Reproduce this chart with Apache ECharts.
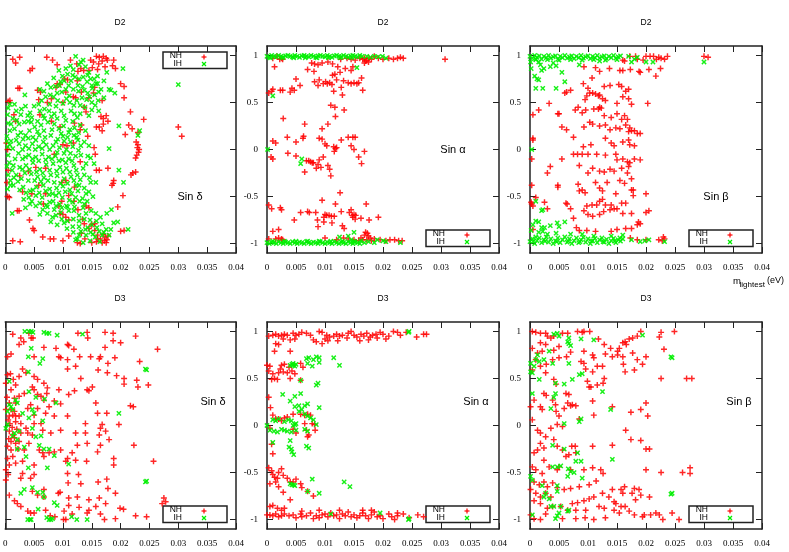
<!DOCTYPE html>
<html><head><meta charset="utf-8">
<script src="https://cdn.jsdelivr.net/npm/echarts@6/dist/echarts.min.js"></script>
<style>html,body{margin:0;padding:0;background:#fff}#c{width:789px;height:552px}</style>
</head><body><div id="c"></div>
<script>
// ---- axis / label data ----
const xMin = 0, xMax = 0.04, xTickStep = 0.005;
const yMin = -1.1, yMax = 1.1;
const yTickValues = [-1, -0.5, 0, 0.5, 1];
const panelTitles = ['D2', 'D2', 'D2', 'D3', 'D3', 'D3'];
const panelLabels = ['Sin δ', 'Sin α', 'Sin β', 'Sin δ', 'Sin α', 'Sin β'];
const seriesNames = ['NH', 'IH'];

// ---- D2, sin delta ----
const d2DeltaNH = [[.0013,.96],[.0018,.92],[.0025,.98],[.0043,.84],[.0047,.86],[.0072,.98],[.0082,.95],[.0090,.90],[.0113,.95],[.0124,.91],[.0131,.86],[.0136,.84],[.0126,.83],
[.0148,.95],[.0158,.99],[.0163,.98],[.0170,.99],[.0175,.97],[.0177,.95],[.0168,.94],[.0162,.91],[.0153,.93],[.0151,.87],[.0145,.84],[.0188,.95],[.0186,.89],[.0191,.86],[.0173,.88],[.0160,.85],
[.0200,.70],[.0206,.67],[.0206,.55],[.0217,.40],[.0240,.32],[.0214,.26],[.0220,.22],[.0208,.16],[.0230,.18],
[.0227,.08],[.0230,.05],[.0229,.02],[.0231,-.03],[.0228,-.06],[.0226,-.09],[.0232,.00],
[.0221,-.25],[.0226,-.24],[.0218,-.27],[.0188,-.33],[.0187,-.36],[.0185,-.38],[.0204,-.49],[.0195,-.61],[.0206,-.86],[.0200,-.87],
[.0170,-.90],[.0173,-.93],[.0172,-.97],[.0175,-.99],[.0168,-.99],[.0165,-.95],[.0160,-.91],[.0155,-.86],[.0176,-.96],[.0178,-.92],[.0150,-.80],[.0145,-.84],[.0132,-.89],[.0138,-.95],[.0158,-.98],[.0150,-.99],[.0130,-1.0],
[.0300,.24],[.0306,.14],
[.0154,.02],[.0156,-.05],[.0163,.24],[.0168,.20],[.0158,.24],[.0163,-.22],[.0158,-.22],[.0178,-.20],[.0140,-.60],[.0145,-.62],[.0134,-.74],[.0137,-.79],[.0155,-.79],[.0160,-.95],
[.0100,-.97],[.0084,-.95],[.0078,-.95],[.0110,-.92],[.0125,-.99],
[.0013,-.97],[.0026,-.98],[.0048,-.84],[.0050,-.86],[.0004,-.50],[.0007,-.51],[.0003,-.35],[.0005,-.22],[.0004,.0],[.0002,.07],[.0015,.37],[.0018,.30],[.0022,.65],[.0025,.65],[.0005,.51],[.0008,.52],[.0024,-.65],[.0021,-.65],
[.0056,.63],[.0061,.61],[.0058,.53],[.0090,.70],[.0095,.69],[.0088,.66],[.0103,.75],[.0108,.74],[.0105,.61],[.0118,.56],[.0122,.55],[.0132,.61],[.0125,.73],[.0073,.50],[.0080,.54],[.0100,.50],[.0060,.37],[.0080,.30],[.0095,.24],[.0118,.07],[.0132,.26],[.0143,.14],[.0130,.21],[.0107,.04],[.0100,.05],[.0085,-.05],[.0070,-.20],[.0053,-.19],[.0040,-.23],[.0025,-.28],[.0030,-.45],[.0046,-.47],[.0058,-.38],[.0098,-.35],[.0105,-.33],[.0098,-.55],[.0093,-.60],[.0110,-.49],[.0119,-.55],[.0110,-.75],[.0105,-.72],[.0100,-.69],[.0095,-.68],[.0126,-.64],[.0066,-.58],[.0070,-.47],[.0120,-.40],[.0130,-.13],[.0065,-.93],[.0042,-.75],[.0120,.28],[.0137,.45],[.0140,.40],[.0145,.55],[.0153,.60],[.0155,.66],[.0168,.52],[.0166,.35],[.0170,.33],[.0175,.36],[.0178,.30],[.0170,.27]];
const d2DeltaIH = [[.0122,.99],[.0131,.93],[.0139,.88],[.0113,.89],[.0145,.82],[.0148,.75],[.0108,.80],[.0117,.79],[.0102,.73],[.0096,.72],[.0126,.68],[.0134,.67],[.0157,.70],[.0166,.64],[.0151,.65],[.0143,.60],[.0180,.64],[.0171,.55],[.0161,.52],[.0150,.50],[.0138,.45],[.0124,.52],[.0111,.57],[.0105,.64],[.0094,.68],[.0087,.67],[.0079,.66],[.0084,.56],[.0091,.52],[.0100,.49],[.0114,.41],[.0097,.41],[.0085,.38],[.0076,.41],[.0068,.43],[.0060,.41],[.0050,.46],[.0043,.39],[.0034,.58],[.0039,.36],[.0027,.37],[.0019,.41],[.0013,.33],[.0004,.37],[.0005,.28],[.0016,.22],[.0024,.27],[.0033,.29],[.0045,.29],[.0051,.24],[.0062,.26],[.0074,.29],[.0085,.27],[.0093,.22],[.0101,.25],[.0112,.21],[.0120,.23],[.0130,.26],[.0119,.15],[.0126,.10],[.0108,.13],[.0100,.14],[.0091,.11],[.0079,.15],[.0069,.13],[.0059,.15],[.0048,.13],[.0040,.12],[.0031,.11],[.0019,.10],[.0010,.09],[.0004,.03],[.0013,.01],[.0024,.06],[.0035,.04],[.0047,.06],[.0058,.03],[.0071,.05],[.0083,.04],[.0094,.02],[.0106,.00],[.0117,.03],[.0131,.04],[.0122,-.07],[.0110,-.10],[.0099,-.11],[.0087,-.07],[.0075,-.08],[.0064,-.05],[.0053,-.08],[.0041,-.06],[.0030,-.10],[.0017,-.10],[.0007,-.14],[.0014,-.17],[.0025,-.19],[.0036,-.17],[.0048,-.14],[.0060,-.21],[.0071,-.16],[.0083,-.15],[.0095,-.19],[.0106,-.20],[.0119,-.17],[.0131,-.06],[.0143,-.07],[.0148,-.09],[.0154,-.15],[.0125,-.27],[.0114,-.29],[.0102,-.31],[.0090,-.28],[.0079,-.27],[.0067,-.30],[.0056,-.29],[.0045,-.26],[.0034,-.25],[.0019,-.27],[.0009,-.33],[.0022,-.34],[.0031,-.40],[.0043,-.44],[.0054,-.40],[.0066,-.38],[.0077,-.42],[.0089,-.41],[.0100,-.39],[.0112,-.43],[.0123,-.38],[.0128,-.38],[.0140,-.47],[.0148,-.35],[.0157,-.35],[.0134,-.52],[.0122,-.51],[.0111,-.54],[.0099,-.51],[.0088,-.49],[.0076,-.48],[.0064,-.51],[.0053,-.49],[.0041,-.51],[.0032,-.53],[.0046,-.55],[.0060,-.57],[.0071,-.59],[.0083,-.55],[.0094,-.58],[.0106,-.60],[.0117,-.56],[.0129,-.55],[.0137,-.58],[.0149,-.65],[.0157,-.68],[.0165,-.72],[.0176,-.68],[.0128,-.70],[.0119,-.65],[.0108,-.61],[.0096,-.67],[.0085,-.64],[.0073,-.61],[.0079,-.77],[.0102,-.78],[.0117,-.82],[.0128,-.82],[.0139,-.85],[.0148,-.88],[.0159,-.83],[.0171,-.88],[.0183,-.85],[.0195,-.77],[.0213,-.85],[.0128,-.91],[.0140,-.91],[.0156,-.93],[.0168,-.91],[.0180,-.91],[.0122,-.96],[.0150,-.80],[.0137,-.74],[.0012,-.68],[.0060,-.69],[.0184,-.64],
[.0197,.25],[.0233,.20],[.0230,.15],[.0180,.01],[.0197,-.22],[.0205,-.35],[.0204,.86],[.0183,.63],[.0300,.69],[.0190,.60],[.0171,.73],[.0160,.78],[.0176,.82],
[.0008,.20],[.0027,.18],[.0042,.20],[.0056,.19],[.0067,.20],[.0081,.21],[.0097,.17],[.0110,.18],[.0127,.18],[.0003,.14],[.0022,.15],[.0035,.15],[.0053,.10],[.0066,.08],[.0088,.08],[.0102,.09],[.0113,.08],[.0124,.13],[.0008,.05],[.0030,.00],[.0041,.01],[.0052,.00],[.0064,.01],[.0077,.00],[.0090,-.03],[.0102,-.04],[.0113,-.04],[.0127,-.01],[.0005,-.06],[.0023,-.04],[.0035,-.08],[.0047,-.10],[.0058,-.12],[.0070,-.11],[.0081,-.10],[.0093,-.12],[.0105,-.14],[.0116,-.12],[.0012,-.22],[.0030,-.21],[.0042,-.21],[.0054,-.24],[.0065,-.25],[.0077,-.22],[.0089,-.23],[.0100,-.24],[.0112,-.24],[.0123,-.22],[.0005,-.27],[.0015,-.30],[.0028,-.31],[.0040,-.33],[.0051,-.33],[.0062,-.34],[.0074,-.33],[.0085,-.35],[.0096,-.36],[.0108,-.36],[.0119,-.33],[.0130,-.32],[.0137,-.41],[.0126,-.44],[.0115,-.47],[.0104,-.45],[.0093,-.46],[.0082,-.47],[.0070,-.44],[.0059,-.46],[.0048,-.43],[.0036,-.46],[.0025,-.43],[.0014,-.38],[.0004,-.42],[.0010,.27],[.0020,.31],[.0040,.30],[.0056,.30],[.0068,.33],[.0080,.35],[.0090,.33],[.0105,.31],[.0117,.30],[.0125,.34],[.0102,.36],[.0088,.46],[.0077,.48],[.0066,.36],[.0058,.48],[.0046,.34],[.0028,.43],[.0016,.48],[.0035,.46],[.0063,.52],[.0070,.56],[.0078,.58],[.0090,.60],[.0098,.61],[.0106,.54],[.0112,.50],[.0119,.47],[.0130,.47],[.0133,.55],[.0141,.53],[.0146,.56],[.0155,.58],[.0162,.61],[.0137,.63],[.0127,.62],[.0118,.64],[.0110,.68],[.0114,.73],[.0121,.77],[.0128,.75],[.0135,.77],[.0142,.72],[.0154,.75],[.0160,.70],[.0150,.68],[.0099,.78],[.0093,.84],[.0105,.86],[.0118,.85],[.0128,.90],[.0143,.79],[.0135,.95],[.0060,.64],[.0073,.70],[.0067,.62],[.0084,.76],[.0110,-.65],[.0120,-.61],[.0098,-.62],[.0088,-.60],[.0077,-.56],[.0065,-.64],[.0053,-.60],[.0043,-.58],[.0035,-.62],[.0073,-.68],[.0088,-.70],[.0098,-.74],[.0108,-.76],[.0118,-.74],[.0128,-.76],[.0140,-.68],[.0147,-.75],[.0158,-.76],[.0168,-.79],[.0163,-.87],[.0152,-.90],[.0143,-.83],[.0131,-.87],[.0118,-.88],[.0107,-.84],[.0090,-.80],[.0082,-.72],[.0125,-.95],[.0135,-.99],[.0147,-.97],[.0164,-.98],[.0175,-.85],[.0188,-.78],[.0145,-.45],[.0152,-.50],[.0142,-.55],[.0135,-.62],[.0146,-.30],[.0137,-.27],[.0140,-.15],[.0135,-.20],[.0137,.08],[.0145,.04],[.0139,.20],[.0145,.36],[.0130,.38],[.0120,.38],[.0150,.42],[.0156,.47],[.0162,.41],[.0005,.44],[.0008,.48],[.0003,-.18],[.0003,.09],[.0009,-.38]];

// ---- D2, sin alpha ----
const d2AlphaNH = [[.0010,.97],[.0017,.99],[.0022,.96],[.0027,.96],[.0025,.97],[.0127,.96],[.0138,.97],[.0145,.96],[.0152,.95],[.0160,.97],[.0165,.96],[.0168,.97],[.0172,.95],[.0170,.94],[.0176,.97],[.0180,.96],[.0185,.99],[.0192,.97],[.0200,.96],[.0210,.97],[.0218,.96],[.0225,.97],[.0230,.98],[.0235,.97],[.0307,.96],[.0168,.92],[.0175,.93],
[.0013,.88],[.0077,.92],[.0082,.91],[.0088,.90],[.0095,.92],[.0105,.93],[.0113,.91],[.0122,.88],[.0135,.86],[.0145,.84],[.0148,.88],[.0070,.85],[.0081,.83],[.0126,.82],[.0113,.79],[.0117,.80],
[.0050,.75],[.0082,.72],[.0090,.74],[.0097,.70],[.0101,.72],[.0104,.70],[.0108,.71],[.0112,.69],[.0088,.68],[.0120,.74],[.0132,.73],[.0140,.71],[.0145,.70],[.0150,.71],[.0155,.70],[.0158,.71],[.0163,.76],[.0130,.58],[.0128,.66],[.0115,.62],[.0010,.64],[.0008,.62],[.0027,.63],[.0023,.63],[.0043,.65],[.0047,.63],[.0040,.61],[.0057,.68],[.0165,.63],[.0003,.60],
[.0110,.47],[.0117,.45],[.0133,.42],[.0118,.35],[.0028,.33],[.0095,.22],[.0105,.27],[.0065,.27],[.0035,.13],[.0063,.14],[.0062,.12],[.0050,.08],[.0090,.12],[.0095,.11],[.0010,.09],[.0015,.07],[.0100,.06],[.0103,.04],[.0115,.03],[.0118,.01],[.0116,-.02],[.0120,.02],[.0128,.10],[.0140,.13],[.0148,.13],[.0152,.13],[.0145,.04],[.0150,.00],[.0168,-.02],[.0158,-.08],[.0163,-.15],[.0007,-.08],[.0010,-.10],[.0036,-.04],[.0050,-.07],[.0068,-.12],[.0072,-.12],[.0075,-.13],[.0080,-.14],[.0088,-.16],[.0093,-.19],[.0097,-.08],[.0065,-.24],[.0085,-.20],[.0105,-.17],[.0108,-.21],[.0110,-.28],[.0090,-.11],[.0078,-.14],
[.0126,-.46],[.0095,-.54],[.0118,-.58],[.0171,-.58],[.0003,-.59],[.0008,-.63],[.0023,-.62],[.0025,-.64],[.0058,-.67],[.0070,-.66],[.0073,-.67],[.0084,-.67],[.0100,-.69],[.0103,-.70],[.0107,-.70],[.0111,-.71],[.0098,-.72],[.0116,-.71],[.0047,-.75],[.0087,-.75],[.0088,-.82],[.0098,-.77],[.0112,-.78],[.0130,-.81],[.0133,-.84],[.0128,-.66],[.0142,-.67],[.0147,-.70],[.0150,-.69],[.0153,-.70],[.0152,-.74],[.0148,-.72],[.0162,-.73],[.0176,-.75],[.0192,-.72],[.0145,-.64],
[.0010,-.87],[.0020,-.85],[.0015,-.95],[.0020,-.94],[.0025,-.95],[.0027,-.96],[.0100,-.94],[.0120,-.96],[.0132,-.94],[.0140,-.95],[.0150,-.96],[.0158,-.97],[.0162,-.94],[.0168,-.91],[.0170,-.88],[.0173,-.89],[.0175,-.92],[.0178,-.94],[.0172,-.96],[.0165,-.96],[.0180,-.97],[.0185,-.95],[.0195,-.96],[.0205,-.97],[.0212,-.96],[.0220,-.96],[.0227,-.97],[.0233,-.97],[.0003,-.95]];
const d2AlphaIH = [[.0000,.99],[.0004,.98],[.0008,1.0],[.0012,.99],[.0016,.985],[.0020,1.0],[.0024,.99],[.0028,.98],[.0032,.995],[.0036,1.0],[.0040,.99],[.0044,.985],[.0048,1.0],[.0052,.99],[.0056,.98],[.0060,.995],[.0064,1.0],[.0068,.99],[.0072,.985],[.0076,1.0],[.0080,.99],[.0084,.98],[.0088,.995],[.0092,1.0],[.0096,.99],[.0100,.985],[.0104,1.0],[.0108,.99],[.0112,.98],[.0116,.995],[.0120,1.0],[.0124,.99],[.0128,.985],[.0132,1.0],[.0136,.99],[.0140,.98],[.0144,.995],[.0148,1.0],[.0152,.99],[.0156,.985],[.0160,1.0],[.0164,.99],[.0006,.975],[.0026,.975],[.0046,.975],[.0066,.975],[.0086,.975],[.0106,.975],[.0126,.975],[.0146,.975],
[.0172,.99],[.0178,.98],[.0185,.99],[.0192,.985],[.0199,.99],[.0205,.97],[.0155,.87],
[.0000,-.99],[.0004,-1.0],[.0008,-.985],[.0012,-.99],[.0016,-1.0],[.0020,-.98],[.0024,-.99],[.0028,-1.0],[.0032,-.985],[.0036,-.99],[.0040,-1.0],[.0044,-.98],[.0048,-.99],[.0052,-1.0],[.0056,-.985],[.0060,-.99],[.0064,-1.0],[.0068,-.98],[.0072,-.99],[.0076,-1.0],[.0080,-.985],[.0084,-.99],[.0088,-1.0],[.0092,-.98],[.0096,-.99],[.0100,-1.0],[.0104,-.985],[.0108,-.99],[.0112,-1.0],[.0116,-.98],[.0120,-.99],[.0124,-1.0],[.0128,-.985],[.0132,-.99],[.0136,-1.0],[.0140,-.98],[.0144,-.99],[.0148,-1.0],[.0152,-.985],[.0156,-.99],[.0160,-1.0],[.0010,-.975],[.0030,-.975],[.0050,-.975],[.0070,-.975],[.0090,-.975],[.0110,-.975],[.0130,-.975],[.0150,-.975],
[.0125,-.93],[.0140,-.92],[.0150,-.88],[.0145,-.96],[.0162,-.97],[.0168,-.99],[.0175,-.98],[.0185,-.99],[.0200,-.97],[.0205,-.98],[.0230,-.99],[.0190,-.96],
[.0010,.57],[.0001,.00],[.0060,-.10],[.0058,-.15]];

// ---- D2, sin beta ----
const d2BetaNH = [[.0172,.99],[.0182,.99],[.0200,.99],[.0207,.99],[.0213,.99],[.0222,.98],[.0226,.97],[.0232,.96],[.0237,.99],[.0300,.99],[.0307,.98],[.0160,.95],[.0163,.94],[.0185,.96],[.0195,.95],[.0218,.96],
[.0173,.85],[.0160,.84],[.0155,.84],[.0190,.82],[.0188,.83],[.0205,.85],[.0225,.86],[.0217,.78],[.0093,.88],[.0113,.87],[.0120,.83],[.0137,.86],[.0092,.70],[.0100,.65],[.0107,.76],[.0128,.67],[.0138,.68],[.0158,.67],[.0153,.69],[.0165,.62],[.0170,.64],[.0108,.60],[.0113,.59],[.0118,.57],[.0120,.58],[.0125,.54],[.0130,.52],[.0070,.63],[.0060,.60],[.0063,.61],[.0103,.60],[.0098,.57],[.0095,.53],[.0160,.56],[.0170,.54],[.0175,.48],[.0150,.49],[.0203,.49],[.0033,.49],[.0078,.42],[.0083,.45],[.0090,.39],[.0096,.42],[.0110,.43],[.0120,.45],[.0118,.43],[.0123,.44],[.0128,.36],[.0140,.34],[.0150,.38],[.0158,.32],[.0163,.36],[.0168,.32],[.0005,.37],[.0015,.42],[.0048,.38],[.0050,.38],
[.0093,.24],[.0103,.29],[.0108,.27],[.0120,.25],[.0130,.26],[.0138,.21],[.0148,.23],[.0155,.22],[.0165,.26],[.0172,.23],[.0175,.20],[.0170,.19],[.0180,.20],[.0185,.17],[.0190,.17],[.0063,.21],[.0055,.24],[.0075,.13],[.0092,.03],[.0105,.05],[.0130,.12],[.0140,.07],[.0145,.04],[.0160,.08],[.0170,.10],[.0172,.05],[.0180,.04],[.0005,.10],[.0005,.12],[.0075,-.05],[.0082,-.05],[.0090,-.05],[.0100,-.05],[.0115,-.05],[.0130,-.06],[.0148,-.05],[.0160,-.10],[.0150,-.11],[.0168,-.13],[.0172,-.14],[.0180,-.10],[.0190,-.11],[.0003,-.10],[.0035,-.18],[.0055,-.10],
[.0085,-.17],[.0100,-.25],[.0108,-.20],[.0120,-.23],[.0128,-.24],[.0138,-.21],[.0145,-.23],[.0158,-.20],[.0170,-.18],[.0168,-.25],[.0175,-.31],[.0178,-.43],[.0175,-.43],[.0200,-.47],[.0003,-.38],[.0030,-.25],[.0083,-.37],[.0085,-.44],[.0090,-.43],[.0095,-.46],[.0113,-.35],[.0120,-.41],[.0125,-.44],[.0133,-.35],[.0148,-.47],[.0155,-.33],[.0163,-.36],[.0003,-.58],[.0005,-.60],[.0010,-.51],[.0025,-.56],[.0048,-.38],[.0048,-.40],[.0062,-.57],[.0064,-.58],[.0070,-.63],[.0098,-.60],[.0107,-.59],[.0115,-.59],[.0120,-.55],[.0125,-.53],[.0130,-.59],[.0140,-.59],[.0145,-.63],[.0158,-.57],[.0165,-.57],[.0178,-.49],[.0100,-.69],[.0093,-.65],[.0108,-.71],[.0120,-.69],[.0127,-.66],[.0138,-.64],[.0150,-.63],[.0160,-.68],[.0175,-.68],[.0187,-.77],[.0190,-.79],[.0185,-.80],[.0205,-.65],[.0200,-.67],[.0080,-.83],[.0085,-.86],[.0098,-.86],[.0113,-.87],[.0140,-.87],[.0150,-.85],[.0165,-.84],[.0175,-.84],[.0173,-.94],[.0185,-.96],[.0228,-.97],[.0222,-.96],[.0232,-.95],[.0230,-.93],[.0200,-.96],[.0075,-.73],[.0030,-.63],[.0005,-.85],[.0002,-.56]];
const d2BetaIH = [[.0000,.99],[.0004,.97],[.0008,1.0],[.0012,.98],[.0016,.995],[.0020,.96],[.0024,.99],[.0028,.975],[.0032,1.0],[.0036,.97],[.0040,.985],[.0044,.995],[.0048,.96],[.0052,.99],[.0056,.975],[.0060,1.0],[.0064,.97],[.0068,.985],[.0072,.995],[.0076,.965],[.0080,.99],[.0084,.975],[.0088,1.0],[.0092,.97],[.0096,.985],[.0100,.995],[.0104,.965],[.0108,.99],[.0112,.975],[.0116,1.0],[.0120,.97],[.0124,.985],[.0128,.995],[.0132,.965],[.0136,.99],[.0140,.975],[.0144,1.0],[.0148,.97],[.0152,.985],[.0156,.995],[.0010,.955],[.0030,.955],[.0050,.95],[.0070,.955],[.0090,.95],[.0110,.955],[.0130,.95],[.0150,.955],
[.0001,.93],[.0002,.86],[.0010,.96],[.0015,.93],[.0018,.90],[.0020,.84],[.0024,.86],[.0008,.78],[.0012,.75],[.0015,.74],[.0022,.65],[.0010,.65],[.0045,.89],[.0040,.92],[.0045,.65],[.0060,.72],[.0055,.82],[.0035,.88],[.0085,.90],[.0120,.94],[.0175,.93],[.0180,.96],[.0170,.99],[.0200,.93],[.0212,.93],[.0300,.93],[.0185,.98],[.0003,.00],
[.0000,-.98],[.0004,-.95],[.0008,-1.0],[.0012,-.97],[.0016,-.94],[.0020,-.99],[.0024,-.96],[.0028,-.93],[.0032,-.985],[.0036,-.95],[.0040,-1.0],[.0044,-.97],[.0048,-.94],[.0052,-.99],[.0056,-.96],[.0060,-.93],[.0064,-.985],[.0068,-.95],[.0072,-1.0],[.0076,-.97],[.0080,-.94],[.0084,-.99],[.0088,-.96],[.0092,-.935],[.0096,-.985],[.0100,-.95],[.0104,-1.0],[.0108,-.97],[.0112,-.945],[.0116,-.99],[.0120,-.96],[.0124,-.94],[.0128,-.985],[.0132,-.955],[.0136,-1.0],[.0140,-.97],[.0144,-.945],[.0148,-.99],[.0152,-.96],[.0156,-.975],[.0160,-.95],[.0006,-.975],[.0026,-.975],[.0046,-.98],[.0066,-.975],[.0086,-.98],[.0106,-.975],[.0126,-.98],[.0146,-.975],
[.0010,-.55],[.0022,-.64],[.0020,-.65],[.0010,-.76],[.0015,-.77],[.0005,-.80],[.0020,-.83],[.0025,-.83],[.0035,-.81],[.0047,-.78],[.0050,-.82],[.0060,-.77],[.0015,-.88],[.0022,-.87],[.0030,-.90],[.0045,-.89],[.0070,-.90],[.0090,-.90],[.0110,-.92],[.0140,-.92],[.0155,-.94],[.0160,-.91],[.0175,-.96],[.0190,-.98],[.0198,-.97],[.0205,-.96],[.0232,-.98],[.0010,-.93],[.0002,-.86]];

// ---- D3, sin delta ----
const d3DeltaNH = [[.0013,.97],[.0027,.93],[.0041,.98],[.0045,.93],[.0048,.93],[.0032,.89],[.0024,.86],[.0050,.73],[.0010,.76],[.0004,.73],[.0067,.83],[.0088,.82],[.0093,.73],[.0096,.72],[.0108,.86],[.0110,.85],[.0126,.98],[.0142,.99],[.0143,.93],[.0119,.81],[.0129,.73],[.0148,.73],[.0165,.73],[.0163,.71],[.0173,.99],[.0173,.83],[.0187,.98],[.0187,.90],[.0200,.88],[.0226,.95],[.0190,.72],[.0233,.68],[.0264,.81],[.0178,.66],[.0161,.59],[.0177,.56],[.0193,.53],[.0206,.50],[.0206,.44],[.0228,.48],[.0230,.41],[.0248,.43],[.0217,.21],[.0222,.20],[.0257,-.38],[.0223,-.21],[.0108,.70],[.0108,.60],[.0122,.63],[.0131,.50],[.0142,.38],[.0145,.37],[.0151,.41],[.0120,.37],[.0093,.38],[.0110,.33],[.0096,.23],[.0085,.26],[.0067,.27],[.0072,.34],[.0076,.20],[.0056,.49],[.0050,.52],[.0036,.56],[.0030,.60],[.0024,.52],[.0018,.43],[.0010,.38],[.0004,.54],[.0001,.45],[.0016,.29],[.0007,.24],[.0001,.17],[.0010,.17],[.0016,.15],[.0007,.10],[.0018,.10],[.0027,.02],[.0036,-.03],[.0039,-.08],[.0007,-.06],[.0013,-.10],[.0016,-.13],[.0010,-.17],[.0018,-.19],[.0024,-.17],[.0004,-.22],[.0010,-.26],[.0013,-.33],[.0004,-.35],[.0007,-.42],[.0001,-.47],[.0005,-.52],[.0027,-.56],[.0030,-.51],[.0050,-.42],[.0050,-.52],[.0044,-.56],[.0059,-.26],[.0065,-.29],[.0067,-.33],[.0076,-.29],[.0085,-.28],[.0096,-.26],[.0105,-.38],[.0108,-.35],[.0122,-.37],[.0141,-.38],[.0116,-.29],[.0108,-.51],[.0127,-.52],[.0131,-.62],[.0109,-.61],[.0079,-.08],[.0065,-.05],[.0062,.02],[.0050,.02],[.0096,-.05],[.0108,.10],[.0122,-.08],[.0139,-.08],[.0139,.02],[.0125,-.21],[.0142,-.19],[.0160,-.28],[.0165,-.21],[.0163,-.10],[.0165,-.03],[.0174,-.06],[.0180,-.15],[.0168,.01],[.0160,.13],[.0157,.24],[.0176,.13],[.0188,-.35],[.0197,.01],[.0161,-.60],[.0176,-.57],[.0178,-.67],[.0191,-.72],[.0188,-.42],[.0125,-.76],[.0110,-.77],[.0092,-.72],[.0095,-.71],[.0110,-.85],[.0128,-.87],[.0116,-.94],[.0105,-1.0],[.0101,-1.0],[.0067,-.76],[.0067,-.68],[.0056,-.74],[.0047,-.70],[.0007,-.74],[.0016,-.80],[.0021,-.83],[.0027,-.86],[.0039,-.91],[.0044,-.93],[.0050,-.93],[.0070,-.90],[.0078,-.96],[.0086,-.97],[.0102,-.91],[.0142,-.93],[.0145,-.90],[.0157,-.86],[.0165,-.94],[.0172,-1.0],[.0191,-.99],[.0199,-.88],[.0205,-.89],[.0226,-.96],[.0245,-.97],[.0174,-.83],[.0163,-.77],[.0145,-.79],[.0275,-.77],[.0278,-.81],[.0272,-.83],
[.0001,-.58],[.0018,-.40],[.0033,-.26],[.0041,-.19],[.0047,-.10],[.0027,-.08],[.0050,.11],[.0044,.22],[.0039,.18],[.0056,.18],[.0062,.31],[.0056,.33],[.0067,.45],[.0073,.40],[.0047,.41],[.0050,.38],[.0033,.34],[.0024,.31],[.0018,.24],[.0013,.11],[.0005,.06],[.0018,.04],[.0024,.10],[.0085,.10],[.0070,.13],[.0003,.30],[.0008,.02],[.0012,-.02],[.0020,-.04],[.0006,-.14],[.0022,-.25],[.0030,-.38],[.0009,.55],[.0014,.49]];
const d3DeltaIH = [[.0034,1.0],[.0041,1.0],[.0045,1.0],[.0048,.99],[.0067,.99],[.0072,.98],[.0076,.98],[.0090,.96],[.0134,.97],[.0045,.82],[.0040,.73],[.0065,.71],[.0060,.66],[.0040,.57],[.0243,.60],[.0245,.59],[.0007,.47],[.0041,.36],[.0053,.30],[.0068,.28],[.0088,.24],[.0018,.27],[.0021,.24],[.0007,.22],[.0010,.20],[.0013,.17],[.0004,.15],[.0030,.13],[.0047,.17],[.0050,.13],[.0065,.05],[.0041,.08],[.0004,.01],[.0001,-.03],[.0016,-.08],[.0013,-.11],[.0021,-.15],[.0047,-.03],[.0024,-.06],[.0062,-.11],[.0053,-.12],[.0033,-.23],[.0021,-.25],[.0059,-.21],[.0067,-.25],[.0076,-.25],[.0085,-.32],[.0197,.13],[.0036,-.33],[.0040,-.45],[.0073,-.45],[.0110,-.41],[.0243,-.60],[.0245,-.59],[.0033,-.68],[.0027,-.72],[.0047,-.66],[.0056,-.71],[.0065,-.71],[.0067,-.76],[.0057,-.89],[.0085,-.82],[.0090,-.85],[.0039,-1.0],[.0043,-1.0],[.0045,-1.0],[.0072,-.98],[.0076,-1.0],[.0079,-1.0],[.0082,-.99],[.0115,-.97],[.0124,-1.0],[.0142,-1.0]];

// ---- D3, sin alpha ----
const d3AlphaNH = [[.0003,.95],[.0010,.96],[.0015,.97],[.0020,.95],[.0025,.96],[.0030,.97],[.0035,.96],[.0045,.98],[.0050,.96],[.0055,.97],[.0060,.99],[.0068,.98],[.0075,.96],[.0090,1.0],[.0095,.99],[.0103,.96],[.0108,.94],[.0115,.95],[.0120,.97],[.0125,.95],[.0130,.96],[.0140,.98],[.0145,1.0],[.0150,.96],[.0155,.94],[.0162,.97],[.0167,.95],[.0172,.98],[.0178,.94],[.0182,.96],[.0188,.97],[.0195,.99],[.0200,.97],[.0210,.95],[.0218,1.0],[.0225,.99],[.0230,.96],[.0240,.99],[.0258,.94],[.0275,.97],[.0270,.97],[.0138,.93],[.0100,.92],[.0105,.90],[.0095,.87],[.0085,.89],[.0122,.90],[.0040,.91],[.0048,.92],[.0028,.92],[.0015,.87],[.0020,.86],[.0013,.79],[.0040,.79],[.0080,.91],[.0160,.90],[.0175,.91],[.0190,.93],[.0205,.92],
[.0000,.64],[.0005,.63],[.0003,.58],[.0010,.55],[.0013,.50],[.0018,.49],[.0020,.56],[.0023,.60],[.0025,.64],[.0030,.65],[.0028,.57],[.0035,.56],[.0038,.62],[.0043,.58],[.0048,.55],[.0058,.66],[.0062,.62],[.0058,.48],[.0008,.49],[.0040,.50],
[.0003,.30],[.0006,.19],[.0010,.11],[.0015,.07],[.0020,.07],[.0025,.05],[.0035,.09],[.0045,.12],[.0058,.12],[.0065,.11],[.0070,.12],[.0075,.11],[.0078,.02],[.0082,.01],[.0065,.02],[.0068,-.05],[.0072,-.10],[.0070,-.12],[.0005,-.03],[.0008,-.20],[.0010,-.30],[.0045,-.04],[.0050,-.08],[.0083,-.05],[.0030,.08],
[.0003,-.45],[.0008,-.48],[.0010,-.52],[.0013,-.55],[.0018,-.56],[.0015,-.60],[.0005,-.62],[.0020,-.50],[.0028,-.53],[.0035,-.56],[.0040,-.60],[.0045,-.60],[.0050,-.57],[.0058,-.62],[.0060,-.66],[.0028,-.71],[.0040,-.79],[.0080,-.75],[.0070,-.70],[.0020,-.65],[.0025,-.46],
[.0005,-.86],[.0010,-.85],[.0018,-.88],[.0025,-.90],[.0000,-.95],[.0005,-.95],[.0010,-.96],[.0015,-.94],[.0020,-.97],[.0025,-.96],[.0030,-.94],[.0038,-.96],[.0045,-.95],[.0050,-.98],[.0058,-.94],[.0060,-.97],[.0068,-.96],[.0075,-.93],[.0080,-.99],[.0085,-.96],[.0090,-.98],[.0095,-.95],[.0100,-.94],[.0105,-.97],[.0110,-.93],[.0115,-.96],[.0120,-.95],[.0125,-.99],[.0130,-.94],[.0135,-.96],[.0140,-.92],[.0145,-.97],[.0150,-.95],[.0155,-.98],[.0160,-.96],[.0165,-.93],[.0170,-.96],[.0175,-.99],[.0180,-.95],[.0185,-.92],[.0190,-.97],[.0195,-.96],[.0200,-.99],[.0210,-.94],[.0215,-.97],[.0220,-1.0],[.0225,-.96],[.0235,-.94],[.0245,-.98],[.0260,-.95],[.0270,-.97],[.0180,-.90],[.0165,-.90],[.0125,-.90],[.0090,-.90],[.0060,-.91],[.0030,-.88],[.0225,-.93]];
const d3AlphaIH = [[.0245,1.0],[.0244,.99],[.0068,.71],[.0072,.72],[.0085,.73],[.0090,.72],[.0080,.70],[.0078,.63],[.0090,.67],[.0115,.72],[.0125,.64],[.0040,.64],[.0043,.65],[.0045,.64],[.0048,.63],[.0050,.65],[.0045,.66],[.0070,.66],[.0058,.48],[.0085,.43],[.0088,.45],[.0027,.33],[.0048,.31],[.0058,.34],[.0040,.26],[.0048,.20],[.0055,.21],[.0065,.21],[.0070,.23],[.0055,.15],[.0060,.17],[.0065,.12],[.0090,.19],[.0070,.10],[.0075,.08],[.0080,.06],[.0010,.06],[.0015,.05],[.0020,.07],[.0030,.04],[.0037,.06],[.0042,.05],[.0045,.00],[.0048,.01],[.0050,.02],[.0085,.01],[.0000,.00],[.0005,-.05],[.0012,-.06],[.0018,-.07],[.0025,-.04],[.0030,-.05],[.0035,-.06],[.0042,-.07],[.0050,-.05],[.0065,-.04],[.0070,-.06],[.0040,-.16],[.0038,-.23],[.0042,-.25],[.0043,-.28],[.0046,-.31],[.0010,-.18],[.0068,-.22],[.0072,-.24],[.0040,-.62],[.0043,-.63],[.0046,-.63],[.0048,-.64],[.0078,-.57],[.0070,-.70],[.0090,-.72],[.0133,-.60],[.0143,-.65],[.0110,-.94],[.0195,-.93],[.0245,-.99],[.0244,-1.0]];

// ---- D3, sin beta ----
const d3BetaNH = [[.0004,1.0],[.0010,.99],[.0018,.98],[.0027,.98],[.0030,.95],[.0036,.93],[.0041,.95],[.0056,.98],[.0065,.98],[.0082,1.0],[.0090,.99],[.0093,1.0],[.0103,1.0],[.0118,.92],[.0128,.86],[.0139,.82],[.0154,.82],[.0160,.88],[.0164,.89],[.0166,.86],[.0171,.92],[.0177,.93],[.0185,.95],[.0191,1.0],[.0223,.94],[.0226,.99],[.0249,1.0],[.0231,.81],[.0151,.79],[.0160,.73],[.0177,.77],[.0142,.73],[.0151,.75],[.0130,.76],[.0108,.75],[.0110,.72],[.0093,.79],[.0088,.68],[.0093,.66],[.0096,.60],[.0108,.57],[.0116,.63],[.0125,.63],[.0128,.50],[.0126,.45],[.0116,.43],[.0105,.41],[.0099,.47],[.0102,.41],[.0161,.65],[.0164,.57],[.0180,.59],[.0185,.70],[.0200,.73],[.0194,.65],[.0226,.50],[.0270,.50],[.0279,.50],[.0070,.78],[.0063,.73],[.0050,.72],[.0039,.70],[.0028,.65],[.0018,.63],[.0004,.59],[.0010,.70],[.0013,.77],[.0004,.82],[.0021,.79],[.0027,.86],[.0018,.88],[.0041,.80],[.0050,.84],[.0027,.56],[.0041,.49],[.0045,.44],[.0024,.34],[.0028,.32],[.0007,.27],[.0001,.20],[.0018,.20],[.0021,.17],[.0039,.27],[.0044,.22],[.0045,.15],[.0050,.10],[.0059,.18],[.0065,.24],[.0070,.21],[.0073,.22],[.0079,.21],[.0085,.07],[.0062,.34],[.0067,.33],[.0108,.26],[.0110,.11],[.0142,.20],[.0174,.14],[.0191,.17],[.0200,.24],[.0203,.10],[.0165,-.05],[.0174,-.15],[.0191,-.16],[.0200,-.25],[.0206,-.25],[.0142,-.21],[.0108,-.22],[.0004,.06],[.0013,-.05],[.0018,-.08],[.0027,-.12],[.0036,-.03],[.0047,.01],[.0056,-.01],[.0018,-.19],[.0013,-.26],[.0007,-.29],[.0024,-.24],[.0041,-.15],[.0047,-.22],[.0056,-.26],[.0062,-.33],[.0067,-.31],[.0072,-.22],[.0078,-.22],[.0079,-.29],[.0024,-.37],[.0004,-.44],[.0010,-.47],[.0021,-.51],[.0033,-.44],[.0047,-.47],[.0050,-.44],[.0070,-.47],[.0093,-.47],[.0108,-.45],[.0122,-.47],[.0126,-.51],[.0114,-.59],[.0102,-.63],[.0085,-.65],[.0070,-.67],[.0059,-.68],[.0047,-.66],[.0039,-.61],[.0030,-.65],[.0024,-.60],[.0016,-.63],[.0007,-.60],[.0001,-.68],[.0010,-.72],[.0018,-.76],[.0027,-.72],[.0036,-.76],[.0007,-.80],[.0018,-.83],[.0030,-.88],[.0039,-.86],[.0053,-.86],[.0065,-.90],[.0073,-.83],[.0082,-.82],[.0093,-.80],[.0102,-.78],[.0110,-.76],[.0125,-.72],[.0136,-.76],[.0145,-.81],[.0148,-.83],[.0142,-.68],[.0157,-.68],[.0163,-.65],[.0160,-.72],[.0176,-.72],[.0180,-.67],[.0188,-.68],[.0191,-.74],[.0206,-.76],[.0182,-.79],[.0164,-.86],[.0157,-.86],[.0171,-.91],[.0194,-.97],[.0197,-.95],[.0208,-.95],[.0217,-.93],[.0223,-.95],[.0229,-1.0],[.0257,-1.0],[.0245,-.93],[.0130,-.98],[.0110,-1.0],[.0095,-.98],[.0079,-.99],[.0056,-.99],[.0027,-.94],[.0018,-1.0],[.0007,-.99],[.0001,-.95],[.0096,-.90],[.0079,-.90],[.0119,-.86],[.0128,-.88],[.0145,-.90],[.0154,-.93],[.0180,-.95],[.0200,-.47],[.0226,-.50],[.0263,-.50],[.0276,-.45],[.0276,-.51]];
const d3BetaIH = [[.0047,.98],[.0050,.95],[.0041,.97],[.0067,.93],[.0065,.89],[.0070,.85],[.0067,.87],[.0088,.92],[.0110,.91],[.0194,.96],[.0243,.73],[.0245,.72],[.0013,.75],[.0010,.70],[.0001,.66],[.0007,.63],[.0001,.57],[.0004,.56],[.0016,.68],[.0024,.70],[.0033,.79],[.0039,.66],[.0067,.66],[.0085,.54],[.0090,.55],[.0073,.49],[.0059,.44],[.0044,.45],[.0016,.49],[.0004,.34],[.0044,.34],[.0041,.30],[.0036,.18],[.0125,.36],[.0139,.17],[.0085,.04],[.0088,.07],[.0059,.02],[.0039,-.21],[.0059,-.25],[.0082,-.29],[.0079,-.38],[.0088,-.38],[.0142,-.36],[.0039,-.44],[.0047,-.44],[.0053,-.43],[.0066,-.46],[.0070,-.49],[.0076,-.50],[.0065,-.54],[.0090,-.56],[.0001,-.54],[.0004,-.58],[.0021,-.64],[.0047,-.64],[.0047,-.70],[.0027,-.72],[.0024,-.76],[.0033,-.78],[.0243,-.73],[.0245,-.72],[.0036,-.86],[.0041,-.86],[.0053,-.86],[.0065,-.91],[.0067,-.90],[.0050,-.93],[.0047,-.96],[.0044,-.99],[.0004,-.95]];

// ---- build chart ----
const panels = [[d2DeltaNH, d2DeltaIH], [d2AlphaNH, d2AlphaIH], [d2BetaNH, d2BetaIH],
                [d3DeltaNH, d3DeltaIH], [d3AlphaNH, d3AlphaIH], [d3BetaNH, d3BetaIH]];
const colOff = [0, 263, 526], rowOff = [0, 276];
const PL = 4, PT = 46, W = 232, H = 207;
const PLUS = 'path://M3.8,0h2.4v3.8h3.8v2.4h-3.8v3.8h-2.4v-3.8h-3.8v-2.4h3.8z';
const frame = '#222';
const grids = [], xAxes = [], yAxes = [], series = [], graphics = [];

panels.forEach((p, i) => {
  const c = i % 3, r = Math.floor(i / 3);
  const ox = colOff[c], oy = rowOff[r];
  grids.push({ left: ox + PL, top: oy + PT, width: W, height: H, show: false });
  const line = { show: true, onZero: false, lineStyle: { color: frame, width: 1.5 } };
  const tick = { show: true, inside: true, length: 6, lineStyle: { color: frame, width: 1 } };
  const lab = { fontFamily: 'Liberation Serif', fontSize: 9, color: '#000' };
  xAxes.push({ gridIndex: i, type: 'value', position: 'bottom', min: xMin, max: xMax, interval: xTickStep,
    axisLine: line, axisTick: tick, axisLabel: Object.assign({ margin: 10.5 }, lab), splitLine: { show: false } });
  xAxes.push({ gridIndex: i, type: 'value', position: 'top', min: xMin, max: xMax, interval: xTickStep,
    axisLine: line, axisTick: tick, axisLabel: { show: false }, splitLine: { show: false } });
  yAxes.push({ gridIndex: i, type: 'value', position: 'right', min: yMin, max: yMax,
    axisLine: line, axisTick: Object.assign({ customValues: yTickValues }, tick),
    axisLabel: Object.assign({ show: c < 2, customValues: yTickValues, align: 'right', margin: 22 }, lab),
    splitLine: { show: false } });
  yAxes.push({ gridIndex: i, type: 'value', position: 'left', min: yMin, max: yMax,
    axisLine: line, axisTick: Object.assign({ customValues: yTickValues }, tick),
    axisLabel: { show: false, customValues: yTickValues }, splitLine: { show: false } });
  series.push({ type: 'scatter', name: seriesNames[0], xAxisIndex: 2 * i, yAxisIndex: 2 * i, data: p[0],
    symbol: PLUS, symbolSize: 6, itemStyle: { color: '#ff0000', opacity: 0.85 }, silent: true });
  series.push({ type: 'scatter', name: seriesNames[1], xAxisIndex: 2 * i, yAxisIndex: 2 * i, data: p[1],
    symbol: PLUS, symbolRotate: 45, symbolSize: 6, itemStyle: { color: '#00ee00', opacity: 0.9 }, silent: true });

  graphics.push({ type: 'text', style: { text: panelTitles[i], x: ox + PL + W / 2, y: oy + 23, align: 'center',
    verticalAlign: 'middle', fontFamily: 'Liberation Sans', fontSize: 8.5, fill: '#000' } });
  const lp = r === 0 ? (c === 1 ? [190, 150] : [190, 197]) : [213, 126];
  graphics.push({ type: 'text', style: { text: panelLabels[i], x: ox + lp[0], y: oy + lp[1], align: 'center',
    verticalAlign: 'middle', fontFamily: 'Liberation Sans', fontSize: 11, fill: '#000' } });
  const by = oy + (i === 0 ? 52 : 230);
  graphics.push({ type: 'rect', shape: { x: ox + 163, y: by, width: 64, height: 16.5 },
    style: { fill: 'none', stroke: frame, lineWidth: 1.5 } });
  graphics.push({ type: 'text', style: { text: seriesNames[0], x: ox + 182, y: by + 4, align: 'right', verticalAlign: 'middle',
    fontFamily: 'Liberation Sans', fontSize: 8.5, fill: '#000' } });
  graphics.push({ type: 'text', style: { text: seriesNames[1], x: ox + 182, y: by + 12, align: 'right', verticalAlign: 'middle',
    fontFamily: 'Liberation Sans', fontSize: 8.5, fill: '#000' } });
  const sx = ox + 204, s1 = by + 5, s2 = by + 12;
  graphics.push({ type: 'line', shape: { x1: sx - 2.5, y1: s1, x2: sx + 2.5, y2: s1 }, style: { stroke: '#ff0000', lineWidth: 1.2 } });
  graphics.push({ type: 'line', shape: { x1: sx, y1: s1 - 2.5, x2: sx, y2: s1 + 2.5 }, style: { stroke: '#ff0000', lineWidth: 1.2 } });
  graphics.push({ type: 'line', shape: { x1: sx - 2, y1: s2 - 2, x2: sx + 2, y2: s2 + 2 }, style: { stroke: '#00ee00', lineWidth: 1.2 } });
  graphics.push({ type: 'line', shape: { x1: sx - 2, y1: s2 + 2, x2: sx + 2, y2: s2 - 2 }, style: { stroke: '#00ee00', lineWidth: 1.2 } });
});

graphics.push({ type: 'text', style: { text: 'm', x: 733, y: 281, align: 'left', verticalAlign: 'middle', fontFamily: 'Liberation Sans', fontSize: 9.5, fill: '#000' } });
graphics.push({ type: 'text', style: { text: 'lightest', x: 739.5, y: 284.5, align: 'left', verticalAlign: 'middle', fontFamily: 'Liberation Sans', fontSize: 8, fill: '#000' } });
graphics.push({ type: 'text', style: { text: '(eV)', x: 767, y: 281, align: 'left', verticalAlign: 'middle', fontFamily: 'Liberation Sans', fontSize: 9, fill: '#000' } });

const chart = echarts.init(document.getElementById('c'), null, { renderer: 'canvas' });
chart.setOption({
  backgroundColor: '#fff', animation: false,
  grid: grids, xAxis: xAxes, yAxis: yAxes, series: series, graphic: graphics
});
</script></body></html>
